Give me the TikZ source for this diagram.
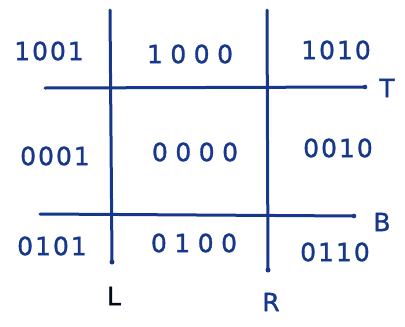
\documentclass[tikz,border=0pt]{standalone}
\usepackage{fontspec}
\usepackage{xcolor}
\newfontfamily\hand[LetterSpace=8,FakeBold=1.2]{DejaVu Sans}
\newfontfamily\handwide[LetterSpace=30,FakeBold=1.2]{DejaVu Sans}
\definecolor{ink}{RGB}{22,55,140}
\tikzset{code/.style={text=ink, font=\hand\fontsize{25}{28}\selectfont, inner sep=0pt},
    widecode/.style={code, font=\handwide\fontsize{25}{28}\selectfont}}
\begin{document}
\begin{tikzpicture}[x=1pt, y=-1pt, every node/.style={code}]
        \useasboundingbox (0,0) rectangle (405,327);
        % Define the line ends
        \coordinate (Ltop) at (110,10);
        \coordinate (Lbot) at (112,262);
        \coordinate (Rtop) at (267,10);
        \coordinate (Rbot) at (268,270);
        \coordinate (Tl) at (45,88);
        \coordinate (Tr) at (365,87);
        \coordinate (Bl) at (40,214);
        \coordinate (Br) at (354,216);

        % Define the region codes
        \node (c1001) at (49,51) {1001};
        \node[widecode] (c1000) at (190,54) {1000};
        \node (c1010) at (336,50) {1010};
        \node (c0001) at (55,156) {0001};
        \node[widecode] (c0000) at (195,152) {0000};
        \node (c0010) at (338,148) {0010};
        \node (c0101) at (52,246) {0101};
        \node[widecode] (c0100) at (194,243) {0100};
        \node (c0110) at (335,252) {0110};

        % Define the boundary labels
        \node (T) at (387,88) {T};
        \node (B) at (382,222) {B};
        \node[text=black!80!ink] (L) at (114,296) {L};
        \node (R) at (271,302) {R};

        \begin{scope}[draw=ink, line width=3pt, line cap=round]
        \draw (Ltop) -- (Lbot);
        \draw (Rtop) -- (Rbot);
        \draw (Tl) -- (Tr);
        \draw (Bl) -- (Br);
        \fill[ink] (Lbot) circle (2.5pt) (Rbot) circle (2.5pt)
            (Tr) circle (2.3pt) (Br) circle (2.3pt);
        \end{scope}
    \end{tikzpicture}
\end{document}
